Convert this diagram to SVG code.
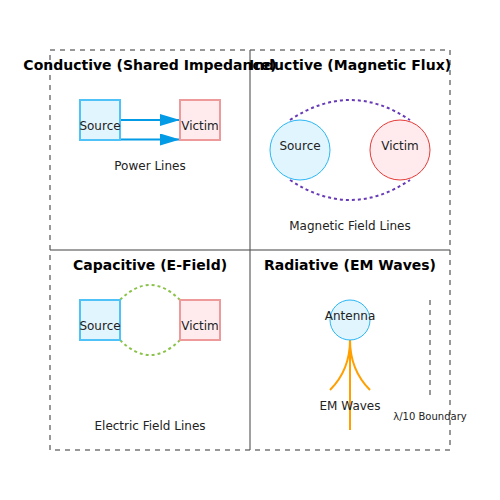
<svg xmlns="http://www.w3.org/2000/svg" width="500" height="500" viewBox="0 0 500 500">
<style>
.title{font-family:"DejaVu Sans",sans-serif;font-size:14px;font-weight:bold;fill:#000;text-anchor:middle}
.lbl{font-family:"DejaVu Sans",sans-serif;font-size:12px;fill:#222;text-anchor:middle}
.small{font-family:"DejaVu Sans",sans-serif;font-size:10px;fill:#222;text-anchor:middle}
.srcbox{fill:#e1f5fe;stroke:#4fc3f7;stroke-width:2}
.vicbox{fill:#ffebee;stroke:#ef9a9a;stroke-width:2}
.srccirc{fill:#e1f5fe;stroke:#29b6f6;stroke-width:1}
.viccirc{fill:#ffebee;stroke:#e53935;stroke-width:1}
</style>
<defs>
<marker id="arr" markerWidth="10" markerHeight="6" refX="10" refY="3" orient="auto" markerUnits="strokeWidth">
<path d="M0,0 L10,3 L0,6 Z" fill="#039be5"/>
</marker>
</defs>
<rect width="500" height="500" fill="#fff"/>
<g id="frame">
<rect x="50" y="50" width="400" height="400" fill="none" stroke="#777" stroke-width="1.5" stroke-dasharray="5,5"/>
<line x1="250" y1="50" x2="250" y2="450" stroke="#555" stroke-width="1.5" stroke-opacity="0.75"/>
<line x1="50" y1="250" x2="450" y2="250" stroke="#555" stroke-width="1.5" stroke-opacity="0.75"/>
</g>
<g id="connectors" fill="none">
<line x1="120" y1="120" x2="180" y2="120" stroke="#039be5" stroke-width="2" marker-end="url(#arr)"/>
<line x1="120" y1="139.5" x2="180" y2="139.5" stroke="#039be5" stroke-width="2" marker-end="url(#arr)"/>
<path d="M290,120 Q350,80 410,120" stroke="#673ab7" stroke-width="2" stroke-dasharray="3,3"/>
<path d="M290,180 Q350,220 410,180" stroke="#673ab7" stroke-width="2" stroke-dasharray="3,3"/>
<path d="M120,300 Q150,270 180,300" stroke="#8bc34a" stroke-width="2" stroke-dasharray="3,3"/>
<path d="M120,340 Q150,370 180,340" stroke="#8bc34a" stroke-width="2" stroke-dasharray="3,3"/>
<line x1="350" y1="340" x2="350" y2="430" stroke="#ffa000" stroke-width="2"/>
<path d="M350,340 Q350,370 330,390" stroke="#ffa000" stroke-width="2"/>
<path d="M350,340 Q350,370 370,390" stroke="#ffa000" stroke-width="2"/>
<line x1="430" y1="300" x2="430" y2="395" stroke="#777" stroke-width="1.5" stroke-dasharray="5,5"/>
</g>
<g id="titles">
<text class="title" x="150" y="70">Conductive (Shared Impedance)</text>
<text class="title" x="350" y="70">Inductive (Magnetic Flux)</text>
<text class="title" x="150" y="270">Capacitive (E-Field)</text>
<text class="title" x="350" y="270">Radiative (EM Waves)</text>
</g>
<g id="q1-source"><rect class="srcbox" x="80" y="100" width="40" height="40"/><text class="lbl" x="100" y="130">Source</text></g>
<g id="q1-victim"><rect class="vicbox" x="180" y="100" width="40" height="40"/><text class="lbl" x="200" y="130">Victim</text></g>
<text class="lbl" x="150" y="170">Power Lines</text>
<g id="q2-source"><circle class="srccirc" cx="300" cy="150" r="30"/><text class="lbl" x="300" y="150">Source</text></g>
<g id="q2-victim"><circle class="viccirc" cx="400" cy="150" r="30"/><text class="lbl" x="400" y="150">Victim</text></g>
<text class="lbl" x="350" y="230">Magnetic Field Lines</text>
<g id="q3-source"><rect class="srcbox" x="80" y="300" width="40" height="40"/><text class="lbl" x="100" y="330">Source</text></g>
<g id="q3-victim"><rect class="vicbox" x="180" y="300" width="40" height="40"/><text class="lbl" x="200" y="330">Victim</text></g>
<text class="lbl" x="150" y="430">Electric Field Lines</text>
<g id="q4-antenna"><circle class="srccirc" cx="350" cy="320" r="20"/><text class="lbl" x="350" y="320">Antenna</text></g>
<text class="lbl" x="350" y="410">EM Waves</text>
<text class="small" x="430" y="420">λ/10 Boundary</text>
</svg>
